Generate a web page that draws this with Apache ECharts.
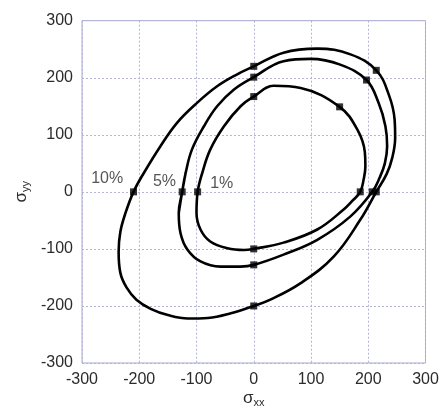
<!DOCTYPE html>
<html>
<head>
<meta charset="utf-8">
<script src="https://cdn.jsdelivr.net/npm/echarts@6/dist/echarts.min.js"></script>
<style>
html,body{margin:0;padding:0;background:#fff;}
#chart{width:440px;height:407px;}
</style>
</head>
<body>
<div id="chart"></div>
<script>
// Axis ticks
const xTicks = [-300, -200, -100, 0, 100, 200, 300];
const yTicks = [-300, -200, -100, 0, 100, 200, 300];

// Contour curves (closed loops), [sigma_xx, sigma_yy]
const curve10 = [[-210,0],[-192,33],[-163,80],[-134,121],[-99,156],[-64,185],[-29,206],[0,220],[52,244],[111,251],[169,241],[214,213],[236,170],[246,127],[247,95],[242,60],[232,31],[214,0],[186,-49],[140,-113],[82,-160],[29,-189],[0,-200],[-40,-213],[-80,-221],[-115,-222],[-150,-216],[-180,-205],[-205,-189],[-222,-168],[-233,-142],[-236,-105],[-233,-70],[-224,-37]];
const curve5 = [[-125,0],[-119,33],[-108,74],[-87,115],[-64,150],[-35,179],[0,201],[52,229],[99,233],[151,223],[197,196],[218,156],[230,115],[233,80],[229,50],[220,25],[207,0],[169,-43],[111,-84],[52,-110],[0,-128],[-23,-131],[-58,-131],[-93,-122],[-116,-101],[-128,-72],[-131,-37]];
const curve1 = [[-98,0],[-90,33],[-76,74],[-52,115],[-23,150],[0,167],[35,186],[82,182],[150,149],[181,109],[194,70],[195,45],[192,22],[186,0],[172,-16],[157,-31],[111,-66],[52,-89],[0,-100],[-17,-102],[-46,-99],[-76,-87],[-93,-66],[-100,-37]];

// Square markers on each curve
const marks10 = [[-210,0],[0,220],[214,213],[214,0],[0,-200]];
const marks5 = [[-125,0],[0,201],[197,196],[207,0],[0,-128]];
const marks1 = [[-98,0],[0,167],[150,149],[186,0],[0,-100]];

// Curve labels
const labelNames = ['10%', '5%', '1%'];
const labelPoints = [[-256,24],[-156,18],[-56,15]];

function loop(pts) {
  const n = pts.length;
  return [pts[n-1]].concat(pts, [pts[0], pts[1]]);
}

const chart = echarts.init(document.getElementById('chart'), null, {renderer: 'canvas'});
const lineStyle = {color: '#000', width: 2.6};
const FONT = 'Liberation Sans, Arial, sans-serif';
const curveSeries = [curve10, curve5, curve1].map(c => ({
  type: 'line', data: loop(c), smooth: 0.4, showSymbol: false,
  lineStyle: lineStyle, silent: true, z: 3
}));
const markSeries = [marks10, marks5, marks1].map(m => ({
  type: 'scatter', data: m, symbol: 'rect', symbolSize: 7,
  itemStyle: {color: '#000'}, silent: true, z: 4
}));
const labelSeries = {
  type: 'scatter', symbolSize: 0, silent: true, z: 5,
  data: labelPoints.map((p, i) => ({value: p, name: labelNames[i]})),
  label: {show: true, position: 'inside', formatter: '{b}', color: '#2b2b2b', fontSize: 16, fontFamily: FONT}
};

chart.setOption({
  animation: false,
  grid: {left: 82, right: 14.5, top: 20.7, bottom: 44, containLabel: false, outerBoundsMode: 'none',
         show: true, borderColor: '#a6a6d2', borderWidth: 1},
  xAxis: {
    type: 'value', min: xTicks[0], max: xTicks[xTicks.length-1], interval: 100,
    axisLine: {show: false}, axisTick: {show: false},
    splitLine: {show: true, lineStyle: {color: '#b4b4d4', type: [2,2], width: 1}},
    axisLabel: {color: '#2b2b2b', fontSize: 16, fontFamily: FONT, margin: 9},
    name: '{a|σ}{b|xx}', nameLocation: 'middle', nameGap: 25, nameMoveOverlap: false,
    nameTextStyle: {rich: {
      a: {fontSize: 17, lineHeight: 20, color: '#2b2b2b', fontFamily: FONT},
      b: {fontSize: 11, lineHeight: 11, verticalAlign: 'bottom', color: '#2b2b2b', fontFamily: FONT}
    }}
  },
  yAxis: {
    type: 'value', min: yTicks[0], max: yTicks[yTicks.length-1], interval: 100,
    axisLine: {show: false}, axisTick: {show: false},
    splitLine: {show: true, lineStyle: {color: '#b4b4d4', type: [2,2], width: 1}},
    axisLabel: {color: '#2b2b2b', fontSize: 16, fontFamily: FONT, margin: 9},
    name: '{a|σ}{b|yy}', nameLocation: 'middle', nameRotate: 90, nameGap: 51, nameMoveOverlap: false,
    nameTextStyle: {rich: {
      a: {fontSize: 17, lineHeight: 20, color: '#2b2b2b', fontFamily: FONT},
      b: {fontSize: 11, lineHeight: 11, verticalAlign: 'bottom', color: '#2b2b2b', fontFamily: FONT}
    }}
  },
  series: curveSeries.concat(markSeries, [labelSeries])
});
</script>
</body>
</html>
